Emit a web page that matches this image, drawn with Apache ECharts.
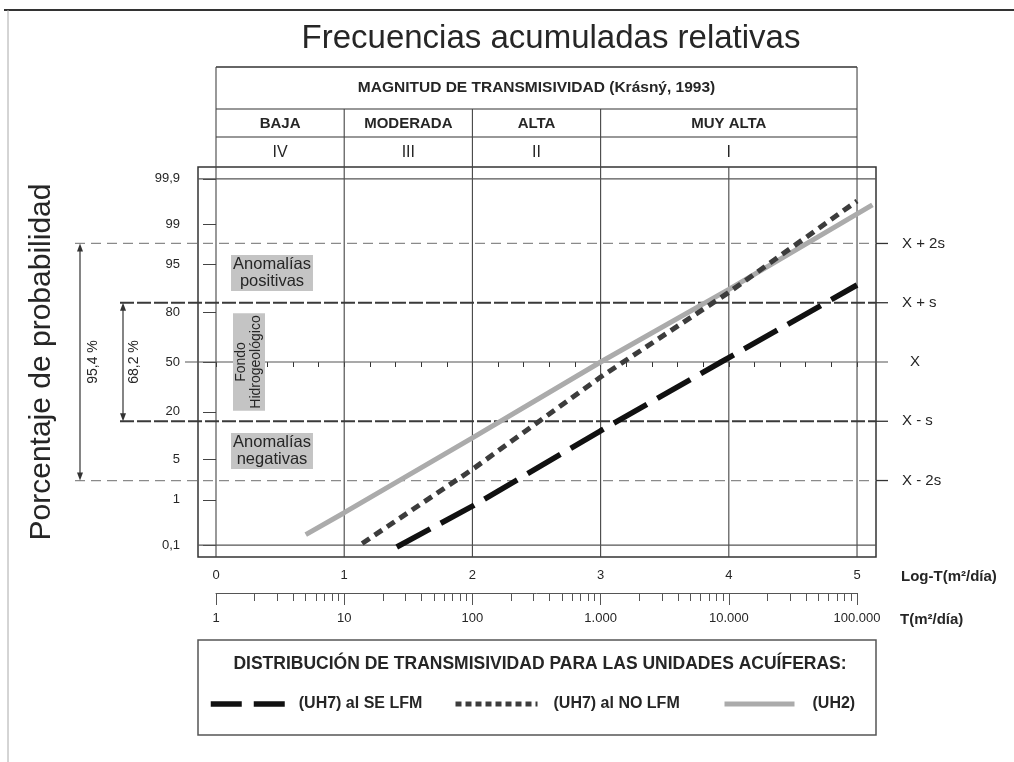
<!DOCTYPE html>
<html>
<head>
<meta charset="utf-8">
<script src="https://cdn.jsdelivr.net/npm/echarts@6/dist/echarts.min.js"></script>
<style>
html,body{margin:0;padding:0;background:#fff;}
#chart{width:1014px;height:762px;}
</style>
</head>
<body>
<div id="chart"></div>
<script>
// ---------------- DATA ----------------
const seriesNames = ['(UH7) al SE LFM', '(UH7) al NO LFM', '(UH2)'];
// [log10 T (m2/día), cumulative probability %]
const logT_SE = [1.41, 2.0, 3.0, 3.94, 5.0];
const prob_SE = [0.09, 0.75, 12.3, 50, 90.3];
const logT_NO = [1.14, 2.0, 3.0, 4.0, 5.0];
const prob_NO = [0.11, 3.5, 40, 88, 99.67];
const logT_UH2 = [0.70, 1.0, 2.0, 3.0, 4.0, 5.12];
const prob_UH2 = [0.18, 0.55, 10, 50, 89, 99.6];

const probTicks = [0.1, 1, 5, 20, 50, 80, 95, 99, 99.9];
const probTickLabels = ['0,1', '1', '5', '20', '50', '80', '95', '99', '99,9'];
const logTTicks = [0, 1, 2, 3, 4, 5];
const tTicks = [1, 10, 100, 1000, 10000, 100000];
const tTickLabels = ['1', '10', '100', '1.000', '10.000', '100.000'];
const tMinorMantissa = [2, 3, 4, 5, 6, 7, 8, 9];
const sigmaLevels = [2, 1, 0, -1, -2];
const sigmaLabels = ['X + 2s', 'X + s', 'X', 'X - s', 'X - 2s'];
const classBounds = [0, 1, 2, 3, 5];
const classNames = ['BAJA', 'MODERADA', 'ALTA', 'MUY ALTA'];
const classRoman = ['IV', 'III', 'II', 'I'];

// ------------- probability (normal) scale -------------
function probit(p) {
  const a=[-3.969683028665376e+01,2.209460984245205e+02,-2.759285104469687e+02,1.383577518672690e+02,-3.066479806614716e+01,2.506628277459239e+00];
  const b=[-5.447609879822406e+01,1.615858368580409e+02,-1.556989798598866e+02,6.680131188771972e+01,-1.328068155288572e+01];
  const c=[-7.784894002430293e-03,-3.223964580411365e-01,-2.400758277161838e+00,-2.549732539343734e+00,4.374664141464968e+00,2.938163982698783e+00];
  const d=[7.784695709041462e-03,3.224671290700398e-01,2.445134137142996e+00,3.754408661907416e+00];
  const pl=0.02425, ph=1-pl; let q, r;
  if (p < pl) { q=Math.sqrt(-2*Math.log(p)); return (((((c[0]*q+c[1])*q+c[2])*q+c[3])*q+c[4])*q+c[5])/((((d[0]*q+d[1])*q+d[2])*q+d[3])*q+1); }
  if (p <= ph) { q=p-0.5; r=q*q; return (((((a[0]*r+a[1])*r+a[2])*r+a[3])*r+a[4])*r+a[5])*q/(((((b[0]*r+b[1])*r+b[2])*r+b[3])*r+b[4])*r+1); }
  q=Math.sqrt(-2*Math.log(1-p)); return -(((((c[0]*q+c[1])*q+c[2])*q+c[3])*q+c[4])*q+c[5])/((((d[0]*q+d[1])*q+d[2])*q+d[3])*q+1);
}
const pz = p => probit(p / 100);
const toPts = (xs, ps) => xs.map((x, i) => [x, pz(ps[i])]);
const probTickZ = probTicks.map(pz);

const minorT = [];
tTicks.slice(0, -1).forEach(d => tMinorMantissa.forEach(m => minorT.push(d * m)));

const FONT = '"Liberation Sans", Arial, sans-serif';
const TXT = '#262626';

const styleSE = {color: '#111111', width: 5.5, type: [38, 12], cap: 'butt'};
const styleNO = {color: '#3c3c3c', width: 5, type: [9, 6], cap: 'butt'};
const styleUH2 = {color: '#ababab', width: 5, type: 'solid'};

const chart = echarts.init(document.getElementById('chart'), null, {renderer: 'canvas'});

const legendText = pad => ({fontSize: 16, fontWeight: 'bold', color: TXT, fontFamily: FONT, padding: [0, 0, 0, pad]});
const option = {
  backgroundColor: '#ffffff',
  animation: false,
  textStyle: {fontFamily: FONT},
  grid: [
    {left: 198, top: 167, width: 678, height: 390, show: true, borderColor: '#333', borderWidth: 1.5, backgroundColor: 'transparent'},
    {left: 216, top: 593, width: 641, height: 0}
  ],
  xAxis: [
    {
      type: 'value', gridIndex: 0, min: -0.1404, max: 5.148, position: 'bottom',
      axisLine: {show: false},
      axisTick: {show: true, length: 5, lineStyle: {color: '#333'},
        customValues: [0,0.2,0.4,0.6,0.8,1,1.2,1.4,1.6,1.8,2,2.2,2.4,2.6,2.8,3,3.2,3.4,3.6,3.8,4,4.2,4.4,4.6,4.8,5]},
      axisLabel: {show: true, customValues: logTTicks, color: TXT, fontSize: 13, margin: 12, fontFamily: FONT},
      splitLine: {show: false}
    },
    {
      type: 'log', gridIndex: 1, min: 1, max: 100000, logBase: 10, position: 'bottom',
      axisLine: {show: true, lineStyle: {color: '#555', width: 1}},
      axisTick: {show: true, length: 8, lineStyle: {color: '#555'}, customValues: minorT},
      axisLabel: {show: false},
      splitLine: {show: false}
    },
    {
      type: 'log', gridIndex: 1, min: 1, max: 100000, logBase: 10, position: 'bottom',
      axisLine: {show: false},
      axisTick: {show: true, length: 12, lineStyle: {color: '#555'}, customValues: tTicks},
      axisLabel: {show: true, customValues: tTicks, color: TXT, fontSize: 13, margin: 19, fontFamily: FONT,
        formatter: v => { const i = tTicks.findIndex(t => Math.abs(Math.log10(t) - Math.log10(v)) < 1e-6); return i >= 0 ? tTickLabels[i] : ''; }},
      splitLine: {show: false}
    }
  ],
  yAxis: [
    {
      type: 'value', gridIndex: 0, min: -3.29, max: 3.29, position: 'left',
      axisLine: {show: false},
      axisTick: {show: true, length: 13, lineStyle: {color: '#444'}, customValues: probTickZ},
      axisLabel: {show: true, customValues: probTickZ, color: TXT, fontSize: 13, margin: 18, fontFamily: FONT,
        formatter: v => { let bi = 0, bd = 1e9; probTickZ.forEach((z, i) => { const dd = Math.abs(z - v); if (dd < bd) { bd = dd; bi = i; } }); return probTickLabels[bi]; }},
      splitLine: {show: false}
    },
    {type: 'value', gridIndex: 1, min: 0, max: 1, show: false}
  ],
  legend: [
    {data: [seriesNames[0]], left: 208, top: 696, padding: 0, itemWidth: 74, itemHeight: 14,
      itemStyle: {opacity: 0}, lineStyle: {color: styleSE.color, width: 5.5, type: [31, 12], cap: 'butt', opacity: 1},
      textStyle: legendText(9)},
    {data: [seriesNames[1]], left: 453, top: 696, padding: 0, itemWidth: 82, itemHeight: 14,
      itemStyle: {opacity: 0}, lineStyle: {color: styleNO.color, width: 5, type: [6, 4], cap: 'butt', opacity: 1},
      textStyle: legendText(11)},
    {data: [seriesNames[2]], left: 722, top: 696, padding: 0, itemWidth: 70, itemHeight: 14,
      itemStyle: {opacity: 0}, lineStyle: {color: styleUH2.color, width: 5, type: 'solid', opacity: 1},
      textStyle: legendText(13)}
  ],
  series: [
    {name: seriesNames[2], type: 'line', xAxisIndex: 0, yAxisIndex: 0, data: toPts(logT_UH2, prob_UH2),
      symbol: 'none', z: 3, lineStyle: styleUH2, itemStyle: {color: styleUH2.color}},
    {name: seriesNames[1], type: 'line', xAxisIndex: 0, yAxisIndex: 0, data: toPts(logT_NO, prob_NO),
      symbol: 'none', z: 4, lineStyle: styleNO, itemStyle: {color: styleNO.color}},
    {name: seriesNames[0], type: 'line', xAxisIndex: 0, yAxisIndex: 0, data: toPts(logT_SE, prob_SE),
      symbol: 'none', z: 5, lineStyle: styleSE, itemStyle: {color: styleSE.color}}
  ]
};
chart.setOption(option);

// ---------------- graphic annotations (positions via axis scales) ----------------
const xp = v => chart.convertToPixel({xAxisIndex: 0}, v);
const yp = z => chart.convertToPixel({yAxisIndex: 0}, z);
const gLeft = 198, gRight = 876;
const tableTop = 67, row1 = 109, row2 = 137, tableBottom = 167;
const g = [];
const line = (x1, y1, x2, y2, stroke, w, dash, z) => g.push({type: 'line', silent: true, z: z || 1,
  shape: {x1, y1, x2, y2}, style: {stroke, lineWidth: w, lineDash: dash || null}});
const text = (x, y, t, font, opts) => g.push(Object.assign({type: 'text', silent: true, z: 10, x, y,
  style: Object.assign({text: t, font, fill: TXT, align: 'center', verticalAlign: 'middle'}, (opts && opts.style) || {})},
  opts && opts.rotation !== undefined ? {rotation: opts.rotation} : {}));

// outer page frame
line(4, 10, 1014, 10, '#333', 2);
line(8, 10, 8, 762, '#aaa', 1);

// title
text(551, 39, 'Frecuencias acumuladas relativas', 'normal 33px ' + FONT);

// table
const xb = classBounds.map(xp);
line(xb[0], tableTop, xb[4], tableTop, '#333', 1.5);
line(xb[0], row1, xb[4], row1, '#333', 1.2);
line(xb[0], row2, xb[4], row2, '#333', 1.2);
text((xb[0] + xb[4]) / 2, 88, 'MAGNITUD DE TRANSMISIVIDAD (Krásný, 1993)', 'bold 15.5px ' + FONT);
classNames.forEach((n, i) => {
  const cx = (xb[i] + xb[i + 1]) / 2;
  text(cx, 124, n, 'bold 15px ' + FONT);
  text(cx, 153, classRoman[i], 'normal 16px ' + FONT);
});

// vertical grid lines (extend into table)
logTTicks.forEach(v => {
  const x = xp(v);
  let top = tableBottom;
  if (v === 0 || v === 5) top = tableTop;
  else if (v >= 1 && v <= 3) top = row1;
  line(x, top, x, tableBottom + 390, '#444', 1.1);
});

// horizontal solid grid lines at 99.9 and 0.1
[pz(99.9), pz(0.1)].forEach(z => line(gLeft, yp(z), gRight, yp(z), '#555', 1.1));

// mean / sd lines
sigmaLevels.forEach((s, i) => {
  const y = yp(s);
  if (s === 0) {
    line(185, y, 888, y, '#555', 1.1);
  } else if (Math.abs(s) === 1) {
    line(120, y, gRight, y, '#3a3a3a', 1.8, [14, 3]);
    line(gRight, y, 888, y, '#333', 1.3);
  } else {
    line(75, y, gRight, y, '#8a8a8a', 1.3, [10, 6]);
    line(gRight, y, 888, y, '#333', 1.3);
  }
  text(s === 0 ? 915 : 902, y, sigmaLabels[i], 'normal 15px ' + FONT, {style: {align: s === 0 ? 'center' : 'left'}});
});

// double arrows
function dblArrow(x, y1, y2) {
  line(x, y1 + 6, x, y2 - 6, '#333', 1.2);
  g.push({type: 'polygon', silent: true, z: 2, shape: {points: [[x, y1], [x - 3, y1 + 8], [x + 3, y1 + 8]]}, style: {fill: '#333'}});
  g.push({type: 'polygon', silent: true, z: 2, shape: {points: [[x, y2], [x - 3, y2 - 8], [x + 3, y2 - 8]]}, style: {fill: '#333'}});
}
dblArrow(80, yp(2), yp(-2));
dblArrow(123, yp(1), yp(-1));
text(93, yp(0), '95,4 %', 'normal 14px ' + FONT, {rotation: Math.PI / 2});
text(134, yp(0), '68,2 %', 'normal 14px ' + FONT, {rotation: Math.PI / 2});

// zone annotations with grey background
const boxStyle = {backgroundColor: '#c4c4c4', padding: [1, 2, 1, 2], lineHeight: 17};
text(272, (yp(2) + yp(1)) / 2, 'Anomalías\npositivas', 'normal 16.5px ' + FONT, {style: boxStyle});
text(272, (yp(-1) + yp(-2)) / 2, 'Anomalías\nnegativas', 'normal 16.5px ' + FONT, {style: boxStyle});
text(249, yp(0), 'Fondo\nHidrogeológico', 'normal 14px ' + FONT, {rotation: Math.PI / 2, style: {backgroundColor: '#c4c4c4', padding: [1, 2, 1, 2], lineHeight: 15}});

// y axis title
text(42, yp(0), 'Porcentaje de probabilidad', 'normal 30px ' + FONT, {rotation: Math.PI / 2});

// axis names
text(901, 577, 'Log-T(m²/día)', 'bold 15px ' + FONT, {style: {align: 'left'}});
text(900, 620, 'T(m²/día)', 'bold 15px ' + FONT, {style: {align: 'left'}});

// legend box
g.push({type: 'rect', silent: true, z: 0, shape: {x: 198, y: 640, width: 678, height: 95}, style: {fill: 'none', stroke: '#555', lineWidth: 1.5}});
text(540, 664, 'DISTRIBUCIÓN DE TRANSMISIVIDAD PARA LAS UNIDADES ACUÍFERAS:', 'bold 17.5px ' + FONT);

chart.setOption({graphic: {elements: g}});
</script>
</body>
</html>
